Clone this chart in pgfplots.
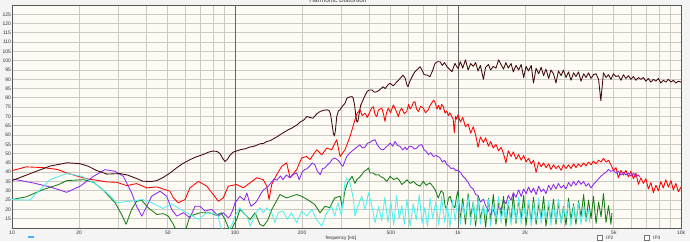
\documentclass[border=0pt]{standalone}
\usepackage{pgfplots}
\pgfplotsset{compat=1.18}
\usepackage{fontspec}
\setmainfont{Liberation Sans}
\definecolor{bgcream}{RGB}{253,251,243}
\definecolor{bgout}{RGB}{244,244,244}
\definecolor{gridc}{RGB}{204,202,196}
\definecolor{cbrown}{RGB}{64,10,10}
\definecolor{cred}{RGB}{255,0,0}
\definecolor{cpurple}{RGB}{140,40,240}
\definecolor{cgreen}{RGB}{20,125,20}
\definecolor{ccyan}{RGB}{80,240,240}
\begin{document}
\begin{tikzpicture}
\fill[bgout] (-12pt,-13pt) rectangle (678pt,228pt);
\begin{axis}[
 at={(0pt,0pt)}, anchor=south west,
 scale only axis, width=669pt, height=223pt,
 xmode=log, xmin=10, xmax=10000, ymin=10, ymax=130,
 axis background/.style={fill=bgcream},
 axis line style={draw=black!65, line width=0.8pt},
 xtick={10,20,30,40,50,60,70,80,90,100,200,300,400,500,600,700,800,900,1000,2000,3000,4000,5000,6000,7000,8000,9000,10000},
 xticklabels={10,20,,,50,,,,,100,200,,,500,,,,,1k,2k,,,5k,,,,,10k},
 ytick={15,20,...,125},
 grid=major, major grid style={gridc, line width=0.9pt},
 major tick length=0pt,
 extra x ticks={100,1000}, extra x tick labels={},
 extra x tick style={major grid style={black!60,line width=0.8pt}},
 tick label style={font=\fontsize{5}{6}\selectfont, text=black!80},
 yticklabel style={inner sep=0.8pt},
 xticklabel style={inner sep=0pt, yshift=-2.6pt},
 every axis plot/.append style={line width=0.85pt, line join=round, mark=none},
 /pgf/number format/assume math mode=true,
]
% red
\addplot[cred] coordinates {
(10,40.9) (11.6,42.9) (13.8,42.5) (16,41.5) (17.6,39.6) (20.2,37.5) (22,36.3) (24,35.7) (26.6,34.8) (29.5,34.6) (32.7,32.8) (36.2,33.9) (40.2,31.6) (44.6,32.1) (47.7,31.0) (51.1,29.8) (52.9,26.2) (55.7,23.6) (59.7,25.3) (62.8,31.6) (68.5,35.1) (74.7,32.5) (79.9,28.0) (84.2,24.4) (88.6,26.2) (93.3,32.5) (101.8,33.4) (109,31.6) (116.8,34.3) (125.1,37.0) (133.9,36.0) (138.8,32.5) (142.1,25.3) (146.1,33.4) (153.8,38.7) (162,43.2) (170.5,45.0) (176.5,37.0) (189.1,41.4) (199.1,47.7) (209.7,48.5) (216.9,46.8) (232.5,52.1) (244.8,49.4) (257.8,53.0) (271.4,52.1) (285.8,57.5) (295.8,48.5) (311.4,52.1)
(328,59.3) (337,64) (345,68.2) (352,71.5) (363.5,73.6) (372,70.5) (383,71.8) (392,69.5) (403,72.7) (410,74.5) (417,75.3) (425,71.0) (432,70.0) (440,73.5) (455,74.5) (463,71.5) (470.6,67.3) (478,72) (487,74.5) (498,72.0) (513,76.2) (526,73.5) (540,70.0) (549,73.0) (559,74.5) (574,71.5) (589,72.7) (600,76.5) (610,74.0) (620,75.3) (630,77.5) (641,78.0) (652,74.0) (664,72.7) (680,75.5) (699,74.5) (715,72.0) (736,73.6) (750,76.0) (765,77.5) (778,78.9) (789,77.5) (805,74.0) (818,76.0) (831,73.6) (845,76.5) (859,75.3) (875,71.8) (890,73.0) (905,70.5) (920,72.0) (937,70.0) (952,68.5) (962,61.1) (975,70.0) (986,68.5)
(1000,70.9) (1025,67.0) (1050,69.5) (1080,64.5) (1110,66.0) (1140,61.0) (1170,64.5) (1200,60.0) (1230,53.5) (1260,59.0) (1300,56.0) (1330,58.5) (1370,54.0) (1400,56.5) (1440,53.0) (1480,55.0) (1520,51.5) (1560,53.5) (1600,50.0) (1640,45.0) (1680,51.5) (1730,48.5) (1770,51.0) (1820,47.0) (1870,49.5) (1920,46.5) (1970,49.0) (2020,45.5) (2070,47.5) (2130,44.5) (2180,46.5) (2240,40.0) (2300,45.5) (2360,43.0) (2420,45.0) (2480,42.5) (2550,44.5) (2610,41.5) (2680,44.0) (2750,42.0) (2820,43.5) (2900,41.0) (2970,44.0) (3050,42.0) (3130,44.0) (3210,42.0) (3300,44.5) (3380,42.5) (3470,44.5) (3560,43.0) (3660,45.0) (3750,43.5) (3850,45.5) (3950,44.0) (4050,46.0) (4160,44.5) (4270,46.5) (4380,45.5) (4490,47.5) (4610,45.5) (4730,46.5) (4850,44.0) (4980,41.0) (5110,42.5) (5240,37.0) (5380,41.0) (5520,38.5) (5660,41.0) (5810,37.5) (5960,40.5) (6120,36.5) (6280,39.5) (6440,33.5) (6610,37.0) (6780,34.0) (6960,36.5) (7140,31.0) (7330,34.5) (7520,29.0) (7720,33.0) (7920,30.0) (8120,35.0) (8330,31.5) (8550,36.0) (8780,32.0) (9010,35.5) (9240,30.5) (9480,34.0) (9730,29.5) (10000,32.0)
};
% purple
\addplot[cpurple] coordinates {
(10,36.4) (12.4,34.3) (14.8,32.1) (17.6,29.2) (20.2,32.5) (23.2,37.8) (26.1,41.4) (29,40.5) (31.6,37.8) (34.4,28.9) (36.2,21.7) (38.2,16.4) (40.2,21.7) (42.3,27.1) (46.1,29.8) (49.4,27.1) (52,20.0) (54.8,16.4) (58.7,18.2) (62.8,15.5) (66.2,21.7) (69.7,21.7) (73.4,19.1) (78.6,20.0) (84.2,16.4) (88.6,18.2) (93.3,15.5)
(95,16.4) (98,20) (100,23.6) (105.3,27) (110,25) (113,28.9) (116,24) (118,21.7) (122,23) (125,24.4) (130,28) (134,30.5) (140,32.0) (143,33.4) (150,36.5) (154,35.7) (160,38.0) (164,36.0) (170,38.5) (176.5,37.0) (182,38.7) (189,39.6) (194,36.0) (200,40.0) (205,41.4) (211,42.0) (217,43.5) (222,45.0) (228,44.1) (234,40.5) (241,38.7) (247,42.0) (253,42.3) (260,44.0) (266,45.0) (273,47.0) (280,47.7) (286,47.0) (293,45.9) (300,44.0) (305,43.2) (311,46.0) (317,48.5) (328,50.5) (340,52.1) (352,53.5) (363,54.8) (373,53.0) (383,53.5) (393,55.7) (403,56.0) (412,57.0) (425,57.5) (433,55.0) (440,53.9) (450,52.5) (463,52.1) (475,53.5) (487,54.5) (496,55.7) (510,54.0) (522,56.6) (535,54.5) (550,53.9) (565,52.0) (580,53.5) (589,52.1) (605,54.0) (620,53.9) (637,52.5) (653,53.0) (670,54.5) (688,54.8) (705,52.0) (720,51.2) (736,49.5) (755,50.5) (775,48.5) (800,49.0) (831,47.7) (850,45.5) (870,46.5) (890,44.1) (910,43.5) (930,42.0) (953,42.3) (975,41.0)
(1000,41.0) (1025,40.0) (1050,38.0) (1080,36.5) (1110,34.5) (1140,32.0) (1170,31.0) (1200,28.0) (1230,27.5) (1260,24.0) (1300,25.5) (1330,22.0) (1370,19.5) (1400,17.0) (1440,20.0) (1480,15.5) (1520,22.0) (1560,20.0) (1600,25.0) (1640,23.0) (1680,27.5) (1730,25.0) (1770,29.0) (1820,26.5) (1870,30.5) (1920,27.0) (1970,31.0) (2020,28.5) (2070,32.0) (2130,29.0) (2180,31.5) (2240,28.0) (2300,32.5) (2360,29.5) (2420,31.0) (2480,28.5) (2550,33.0) (2610,30.5) (2680,33.5) (2750,31.0) (2820,34.0) (2900,31.5) (2970,33.0) (3050,31.0) (3130,34.5) (3210,32.5) (3300,35.0) (3380,33.0) (3470,35.5) (3560,33.5) (3660,35.0) (3750,32.5) (3850,34.0) (3950,31.5) (4050,33.5) (4160,35.0) (4270,36.5) (4380,38.0) (4490,39.0) (4610,40.0) (4730,41.5) (4850,40.5) (4980,41.0) (5110,39.5) (5240,40.5) (5380,38.5) (5520,40.0) (5660,38.5) (5810,39.5) (5960,38.0) (6120,39.5) (6280,37.5) (6440,38.5) (6550,37.5)
};
% green
\addplot[cgreen] coordinates {
(10,25.3) (11.6,26.8) (13.8,30.7) (16.2,33.4) (17.6,35.5) (21,36.0) (23.2,34.6) (25.5,30.7) (29,23.6) (31,17.3) (32.5,12.0) (34.4,20.0) (36.2,24.4) (38.2,24.9) (40.8,20.9) (44.6,17.3) (47.7,17.7) (50.2,16.4) (52.9,12.0) (54.8,8) (59.7,8) (62.8,16.4) (69.7,18.2) (77,18.2) (82.5,16.8) (86.7,18.2) (90.2,14.6) (95,8) (101.8,14.6) (105.3,20.0) (111,17.3) (116.8,14.6) (123,18.2) (129.4,12.0) (134,11.0) (140,14) (146.3,20.0) (159.1,28.0) (170.5,26.2) (189.1,28.0) (199.1,27.1) (216.9,24.4) (228,22.6) (240.6,18.2) (253,21.7) (266,20.9) (280,26.2) (296,27.1) (303,21) (311,30) (320,34.5) (335,37.8) (345,34.0) (352,36) (360,37.0) (370,38.7) (380,40.5) (390,41.4) (397,42.3)
(403,39.6) (417,39.6) (428,38.5) (440,38.7) (452,37.5) (463,37) (480,35.1) (496,37.8) (515,36.0) (533,37) (547,35.5) (560,33.4) (575,34.5) (589,36) (610,34.0) (631,35.1) (650,33.5) (675,32.5) (699,35.1) (720,33.0) (749,34.3) (770,32.5) (789,30.7) (815,26.2) (840,30.0) (859,28.9) (875,22.0) (890,20.0) (905,26.0) (922,27.1) (945,22.5) (969,20.9) (985,27.0)
(1000,30.0) (1025,14.0) (1050,26.0) (1080,12.0) (1110,28.5) (1140,16.0) (1170,24.0) (1200,11.0) (1230,27.0) (1260,15.0) (1300,22.0) (1330,10.5) (1370,26.0) (1400,13.0) (1440,28.0) (1480,12.0) (1520,24.5) (1560,16.5) (1600,27.0) (1640,11.0) (1680,23.0) (1730,14.0) (1770,28.0) (1820,12.5) (1870,25.0) (1920,15.0) (1970,27.5) (2020,11.5) (2070,24.0) (2130,13.5) (2180,26.5) (2240,12.0) (2300,23.0) (2360,15.5) (2420,27.0) (2480,11.0) (2550,22.5) (2610,14.0) (2680,25.5) (2750,12.0) (2820,24.0) (2900,13.0) (2970,21.5) (3050,11.5) (3130,26.0) (3210,14.5) (3300,23.0) (3380,12.0) (3470,24.5) (3560,16.0) (3660,28.0) (3750,13.5) (3850,25.0) (3950,15.0) (4050,27.0) (4160,12.5) (4270,24.0) (4380,16.0) (4490,28.5) (4610,13.0) (4730,22.0) (4850,12.0) (4900,18.0)
};
% cyan
\addplot[ccyan] coordinates {
(10,25.3) (12,25.0) (14.8,36.0) (17.6,39.3) (20.6,37.8) (23.9,33.4) (26.6,28.9) (29.5,23.6) (34,24.4) (38.5,25.3) (42.4,23.6) (47.5,20.5) (52,23.0) (57,20.0) (62.8,17.3) (68.5,14.6) (74.7,18.2) (81.4,17.5) (84,16.4) (86,11) (89,8) (93,8) (97,12) (100,16.4) (105,20.9) (113,16.4) (117,11) (123,17.3) (129,20.9) (134,18.2) (139,20.9) (146,18.2) (151,12.8) (156,18.2) (164,19.1) (172,14.6) (179,18.2) (189,12.8) (199,19.1) (210,16.4) (221,20) (232,14.6) (245,11) (258,18.2) (271,21.7) (280,16.4) (290,23.6) (300,16.4) (311,34.3) (317,37) (328,34.3) (340,25.3) (345,16.4) (356,21.7) (370,27.1) (383,20) (397,28.9) (411,21.7) (425,12.8)
(440,21.7) (455,14.0) (470,26.5) (485,13.0) (500,24.0) (515,11.5) (530,27.5) (545,15.0) (560,22.0) (575,12.0) (590,25.5) (610,11.0) (630,23.0) (650,14.5) (670,28.0) (690,12.5) (710,21.0) (730,11.0) (750,26.0) (770,15.0) (795,24.0) (820,11.5) (845,27.0) (870,13.0) (895,22.5) (920,10.5) (945,25.0) (970,14.0)
(1000,26.5) (1025,12.0) (1050,23.0) (1080,15.5) (1110,27.0) (1140,11.5) (1170,24.0) (1200,14.0) (1230,26.0) (1260,12.0) (1300,22.0) (1330,16.0) (1370,25.5) (1400,11.0) (1440,23.5) (1480,14.5) (1520,27.0) (1560,12.5) (1600,21.5) (1640,15.0) (1680,25.0) (1730,11.5) (1770,23.0) (1820,13.5) (1870,26.5) (1920,12.0) (1970,22.0) (2020,15.5) (2070,25.0) (2130,11.0) (2180,23.5) (2240,14.0) (2300,26.0) (2360,12.5) (2420,21.0) (2480,15.0) (2550,24.5) (2610,11.5) (2680,22.5) (2750,14.0) (2820,25.5) (2900,12.0) (2970,21.0) (3050,15.5) (3130,24.0) (3210,11.0) (3300,22.0) (3380,14.5) (3470,23.5) (3560,12.0) (3660,21.5) (3750,13.5) (3850,20.0) (3900,12.5)
};
% brown (fundamental)
\addplot[cbrown] coordinates {
(10,35.5) (12.4,39.8) (14.8,43.3) (17.7,45.1) (20.2,44.6) (22,43.2) (24,40.9) (26.7,39.0) (30.5,39.3) (33,38.5) (36.4,36.5) (38.6,35.2) (42,35.0) (44.6,35.5) (47.5,37.1) (51,39.5) (54.9,42.5) (58,44.5) (62.9,46.8) (67,48.3) (71.9,49.5) (76,50.8) (79.7,51.4) (83,51.2) (85.7,50.0) (88,47.5) (90.2,45.8) (92.5,47.0) (95,49.2) (98,50.8)
(102,51.5) (105.3,52.1) (111,52.6) (116.8,53.6) (122,54.0) (129.4,55.3) (134,55.5) (139.2,56.6) (144,57.0) (148.1,57.9) (154,59.0) (159.1,60.2) (166,61.5) (172.9,62.8) (180,63.8) (189.7,65.5) (197,67.2) (203,68.0) (210.3,70.0) (216,69.5) (223.8,69.1) (232,71.3) (240.6,72.7) (249,73.3) (258.6,73.6) (264,73.2) (268,71.5) (272.3,66.0) (276,61.0) (279,59.5) (282,62.5) (286,70.0) (291,73.0) (295.8,73.6) (303,75.5) (311.4,77.1) (317.5,79.8) (326,80.5) (334.7,80.7) (339,79.8) (344,76.0) (348,70.5) (352,67.0) (356,67.5) (361,72.0) (366,76.0) (371.1,77.5) (380,80.5) (390.8,83.4) (400,84.3) (411.5,84.3) (422,83.0) (433.4,83.4) (447,84.5) (461,86.0) (472,85.0) (483,86.8) (495.6,87.9) (512,86.5) (532.8,88.7) (550,90.5) (566.8,92.3) (580,90.5) (590,87.0) (597,86.0) (606,88.5) (622.1,91.4) (640,94.0) (660,95.5) (675.4,96.8) (690,95.0) (705,92.5) (726.1,92.3) (748.8,91.4) (768,94.5) (788.7,98.6) (810,99.5) (830.6,99.5) (850,97.5) (870,99.0) (892.6,96.8) (915,95.5) (939.9,94.1) (955,96.5) (969.4,98.6) (985,97.0)
(1000,95.9) (1025,99.5) (1050,96.0) (1080,100.5) (1110,95.0) (1140,98.5) (1170,97.0) (1200,99.0) (1230,94.5) (1260,97.5) (1300,90.0) (1330,96.5) (1370,98.0) (1400,95.0) (1440,97.0) (1480,96.0) (1520,100.5) (1560,98.0) (1600,95.5) (1640,99.0) (1680,96.0) (1730,98.5) (1770,94.0) (1820,97.5) (1870,95.0) (1920,98.0) (1970,91.0) (2020,97.0) (2070,94.5) (2130,97.5) (2180,88.0) (2240,96.0) (2300,93.0) (2360,96.5) (2420,92.0) (2480,95.5) (2550,90.5) (2610,95.0) (2680,93.0) (2750,88.0) (2820,94.5) (2900,92.0) (2970,95.0) (3050,91.0) (3130,94.0) (3210,89.5) (3300,93.5) (3380,91.5) (3470,94.0) (3560,89.0) (3660,93.0) (3750,91.0) (3850,93.5) (3950,90.5) (4050,92.5) (4160,93.0) (4270,90.0) (4370,78.5) (4490,93.5) (4610,91.0) (4730,92.5) (4850,90.0) (4980,93.0) (5110,91.5) (5240,92.0) (5380,89.5) (5520,92.5) (5660,90.5) (5810,92.0) (5960,90.0) (6120,91.5) (6280,89.5) (6440,91.0) (6610,90.0) (6780,91.0) (6960,89.0) (7140,90.5) (7330,88.5) (7520,90.0) (7720,89.0) (7920,90.5) (8120,88.0) (8330,89.5) (8550,88.5) (8780,90.0) (9010,88.5) (9240,89.5) (9480,88.0) (9730,89.0) (10000,88.5)
};
\end{axis}
\node[font=\fontsize{6.5}{7}\selectfont, text=black!75, anchor=south, inner sep=0pt] at (326pt,225.5pt) {Harmonic Distortion};
\node[font=\fontsize{4.8}{5.5}\selectfont, text=black!80, inner sep=0pt] at (329pt,-10pt) {frequency [Hz]};
\fill[blue!45!cyan!70] (16pt,-9.8pt) rectangle (21.5pt,-8.2pt);
\draw[black!55, fill=white, line width=0.5pt] (585pt,-11.8pt) rectangle (590pt,-6.8pt);
\node[font=\fontsize{4.8}{5.5}\selectfont, text=black!75, inner sep=0pt, anchor=west] at (594pt,-9.8pt) {IP2};
\draw[black!55, fill=white, line width=0.5pt] (632pt,-11.8pt) rectangle (637pt,-6.8pt);
\node[font=\fontsize{4.8}{5.5}\selectfont, text=black!75, inner sep=0pt, anchor=west] at (641pt,-9.8pt) {IP3};
\pgfresetboundingbox
\path[use as bounding box] (-12pt,-13pt) rectangle (678pt,228pt);
\end{tikzpicture}
\end{document}
